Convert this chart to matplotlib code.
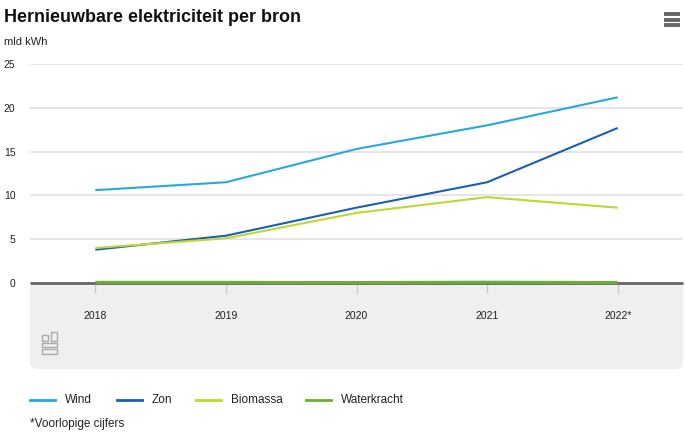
import matplotlib
matplotlib.use("Agg")
import matplotlib.pyplot as plt
from matplotlib.patches import FancyBboxPatch, Rectangle
from matplotlib.lines import Line2D

years = ["2018", "2019", "2020", "2021", "2022*"]
wind = [10.6, 11.5, 15.3, 18.0, 21.2]
zon = [3.8, 5.4, 8.6, 11.5, 17.7]
biomassa = [4.0, 5.1, 8.0, 9.8, 8.6]
waterkracht = [0.07, 0.07, 0.05, 0.09, 0.05]
series_names = ["Wind", "Zon", "Biomassa", "Waterkracht"]
colors = ["#27a9d9", "#1c5fb1", "#bfd730", "#6aaf35"]
yticks = [0, 5, 10, 15, 20, 25]

W, H = 685, 446
plt.rcParams['font.family'] = ['Liberation Sans', 'DejaVu Sans']
fig = plt.figure(figsize=(W / 100, H / 100), dpi=100)

def fx(px):
    return px / W

def fy(py):
    return 1 - py / H

# grey band below axis
band = FancyBboxPatch((fx(30), fy(369)), fx(683) - fx(30), fy(283) - fy(369),
                      boxstyle="round,pad=0,rounding_size=0.012",
                      transform=fig.transFigure, facecolor="#efefef",
                      edgecolor="none", zorder=-5)
fig.patches.append(band)

ax = fig.add_axes([fx(30), fy(283), fx(683) - fx(30), fy(64) - fy(283)])
ax.set_zorder(2)
ax.set_facecolor("none")
x = list(range(len(years)))
data = [wind, zon, biomassa, waterkracht]
widths = [1.5, 1.5, 1.5, 2.2]
for vals, c, n, lw in zip(data, colors, series_names, widths):
    ax.plot(x, vals, color=c, lw=lw, label=n, zorder=3, solid_capstyle="butt",
            clip_on=False)

ax.set_xlim(-0.5, 4.5)
ax.set_ylim(0, 25)
ax.set_yticks(yticks)
ax.set_yticklabels([str(t) for t in yticks])
ax.grid(axis="y", color="#e3e3e3", lw=1.3)
ax.set_axisbelow(True)
for s in ["top", "right", "left"]:
    ax.spines[s].set_visible(False)
ax.spines["bottom"].set_color("#666666")
ax.spines["bottom"].set_linewidth(2)
ax.spines["bottom"].set_capstyle("butt")
ax.spines["bottom"].set_zorder(2)
ax.tick_params(axis="y", length=0, pad=10.5, labelsize=7.5, colors="#222222")
for lab in ax.get_yticklabels():
    lab.set_horizontalalignment("right")
ax.set_xticks(x)
ax.set_xticklabels(years)
ax.tick_params(axis="x", length=7, width=1, color="#cccccc", pad=13,
               labelsize=7.5, labelcolor="#222222")

# title and unit
fig.text(fx(4), fy(17), "Hernieuwbare elektriciteit per bron", fontsize=13,
         fontweight="bold", color="#111111", va="center", ha="left")
fig.text(fx(4), fy(42), "mld kWh", fontsize=8, color="#222222", va="center", ha="left")

# hamburger icon
for yy in [14, 19.5, 25]:
    fig.add_artist(Line2D([fx(664), fx(680)], [fy(yy), fy(yy)], color="#666666",
                          lw=2.8, solid_capstyle="butt"))

# cbs logo (simplified)
lc = "#aaaaaa"
def rect(x0, y0, w, h):
    fig.patches.append(Rectangle((fx(x0), fy(y0 + h)), w / W, h / H,
                                 transform=fig.transFigure, fill=False,
                                 edgecolor=lc, lw=1))
rect(42, 335, 6, 6)
rect(51, 332, 6, 9)
rect(42, 343, 15, 4)
rect(42, 349, 15, 5)

# legend
lx = [30, 117, 196, 306]
for px, n, c in zip(lx, series_names, colors):
    fig.add_artist(Line2D([fx(px), fx(px + 25)], [fy(400), fy(400)], color=c, lw=2))
    fig.text(fx(px + 35), fy(400), n, fontsize=8.5, color="#222222", va="center", ha="left")

fig.text(fx(30), fy(424), "*Voorlopige cijfers", fontsize=8.5, color="#222222",
         va="center", ha="left")

fig.savefig("out.png", dpi=100)
